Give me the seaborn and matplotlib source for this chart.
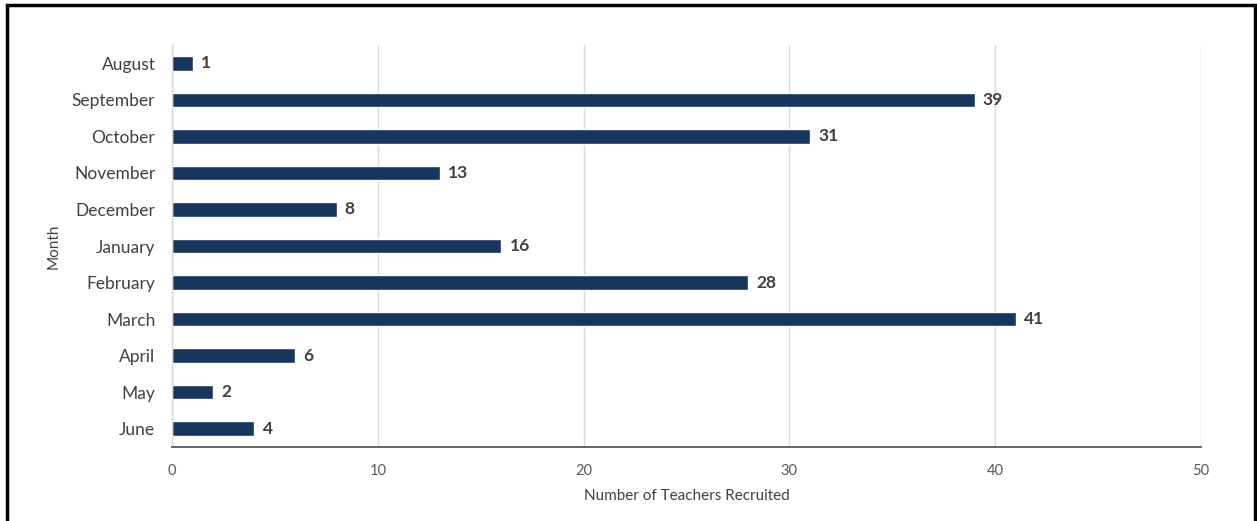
import matplotlib
matplotlib.use("Agg")
import pandas as pd
import seaborn as sns
import matplotlib.pyplot as plt
from matplotlib.patches import Rectangle

# Data
months = ["August", "September", "October", "November", "December", "January",
          "February", "March", "April", "May", "June"]
teachers = [1, 39, 31, 13, 8, 16, 28, 41, 6, 2, 4]

df = pd.DataFrame({"Month": months, "Teachers": teachers})

sns.set_theme(style="white")
plt.rcParams["font.family"] = ["Lato", "DejaVu Sans"]

fig = plt.figure(figsize=(12.57, 5.21), dpi=100)
ax = fig.add_axes([172 / 1257, 1 - 447 / 521, (1201 - 172) / 1257, (447 - 45) / 521])

sns.barplot(data=df, x="Teachers", y="Month", order=months, color="#17365d",
            width=0.4, saturation=1, ax=ax)

for i, v in enumerate(teachers):
    ax.text(v + 0.4, i, str(v), va="center", ha="left", fontsize=12.5,
            fontweight="bold", color="#404040")

ax.set_xlim(0, 50)
ax.set_ylim(10.5, -0.5)
ax.set_xticks([0, 10, 20, 30, 40, 50])
ax.grid(axis="x", color="#d9d9d9", linewidth=1)
ax.set_axisbelow(True)

for s in ["top", "right"]:
    ax.spines[s].set_visible(False)
ax.spines["left"].set_color("#d9d9d9")
ax.spines["left"].set_linewidth(1)
ax.spines["bottom"].set_color("#595959")
ax.spines["bottom"].set_linewidth(1.3)

ax.tick_params(axis="y", length=0, pad=12, labelsize=12.5, labelcolor="#404040")
ax.tick_params(axis="x", length=0, pad=12, labelsize=10.5, labelcolor="#595959")

ax.set_xlabel("Number of Teachers Recruited", fontsize=11, color="#404040", labelpad=8)
ax.set_ylabel("Month", fontsize=11, color="#404040", labelpad=8)

# outer frame like the screenshot
fig.patches.append(Rectangle((7 / 1257, -0.05), (1255 - 7) / 1257, 1 - 5 / 521 + 0.05,
                             transform=fig.transFigure, fill=False,
                             edgecolor="black", linewidth=2.5))

fig.savefig("out.png", dpi=100)
